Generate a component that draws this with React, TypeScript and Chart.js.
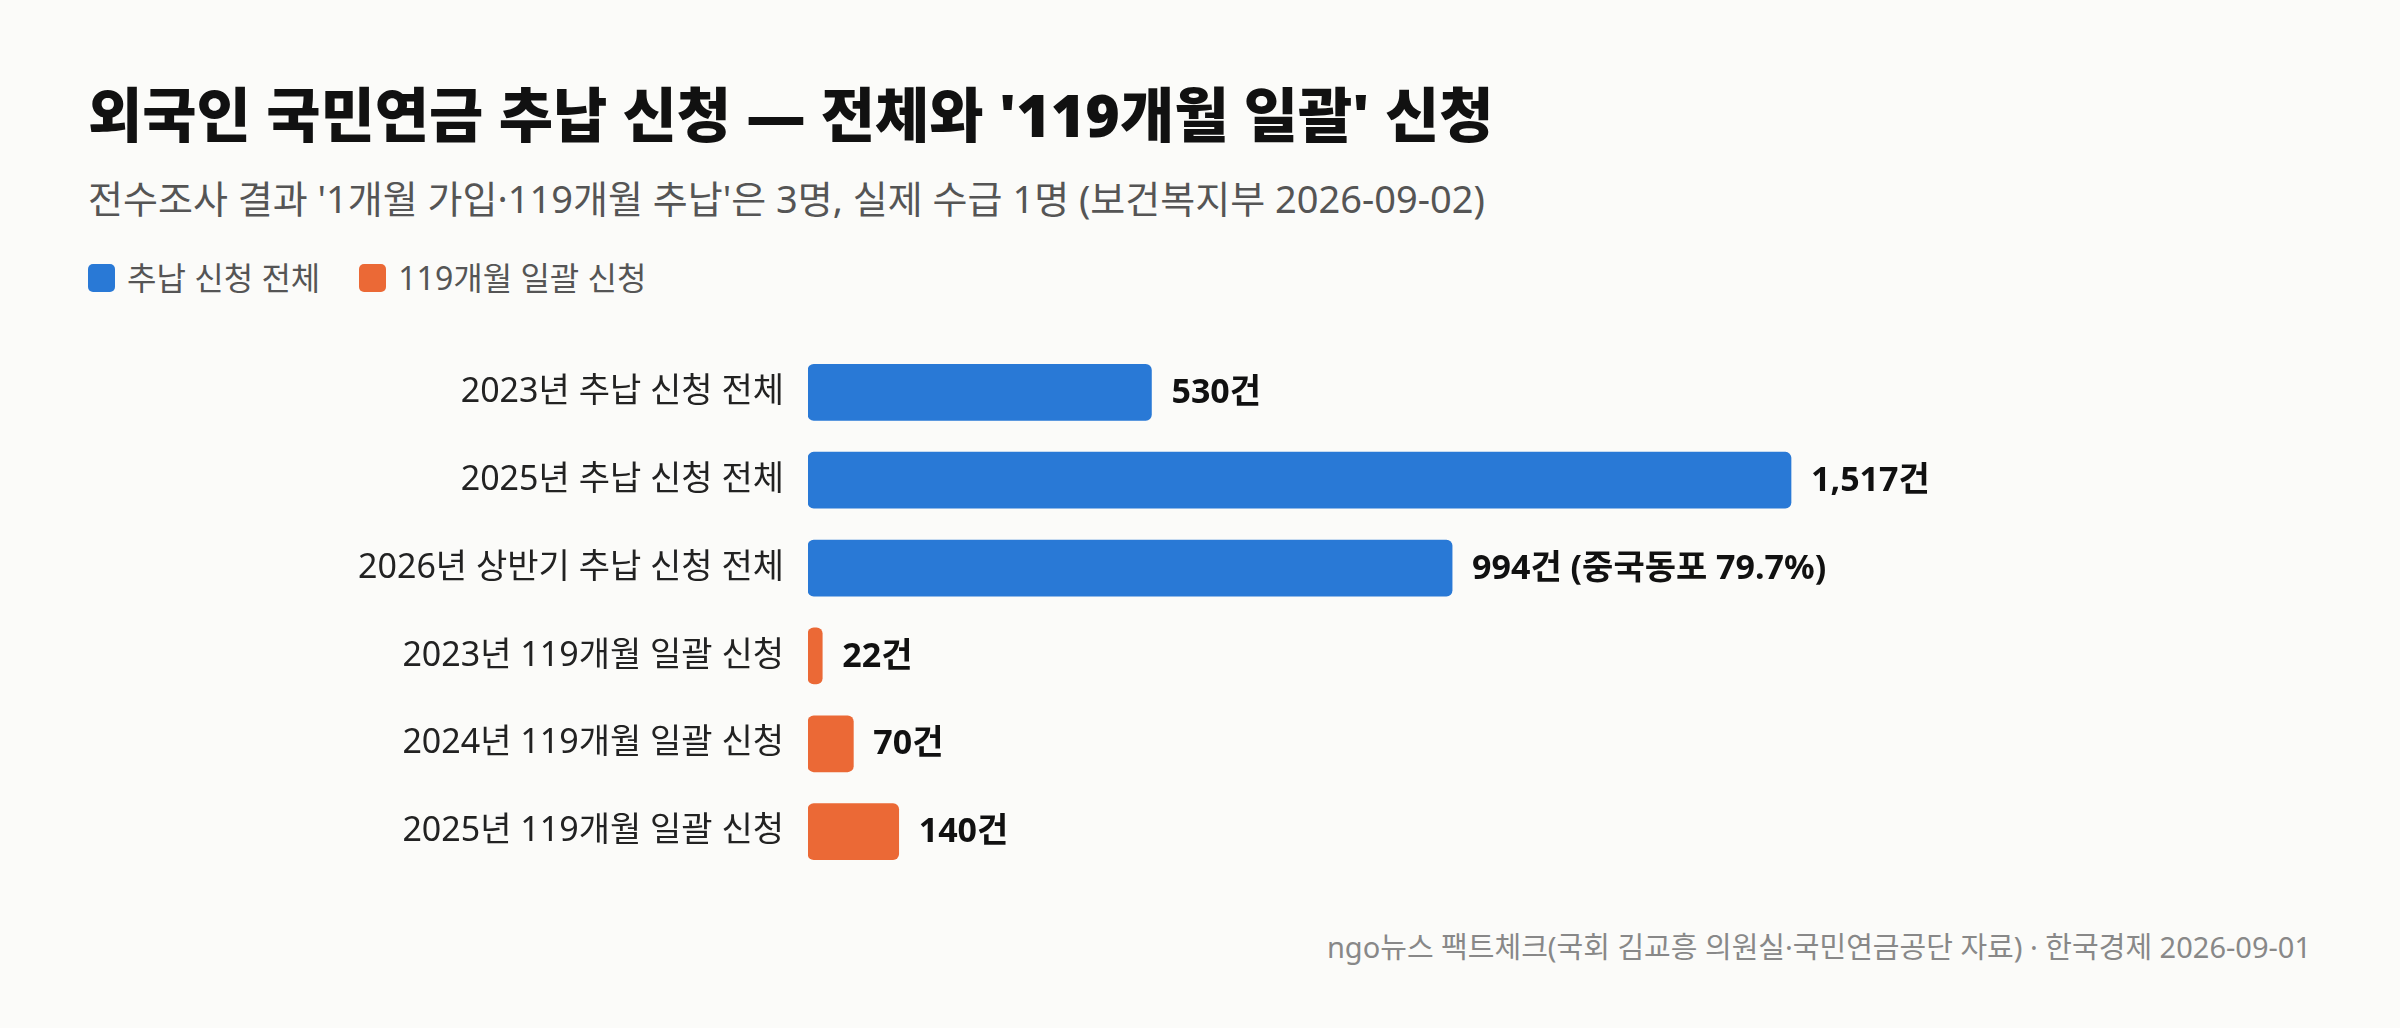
import React, { useEffect, useRef } from "react";
import { Chart, registerables } from "chart.js";

Chart.register(...registerables);

const categories = [
  "2023년 추납 신청 전체",
  "2025년 추납 신청 전체",
  "2026년 상반기 추납 신청 전체",
  "2023년 119개월 일괄 신청",
  "2024년 119개월 일괄 신청",
  "2025년 119개월 일괄 신청",
];
const totalSeries = [530, 1517, 994, null, null, null];
const lumpSeries = [null, null, null, 22, 70, 140];
const valueNotes = ["", "", " (중국동포 79.7%)", "", "", ""];
const seriesNames = ["추납 신청 전체", "119개월 일괄 신청"];
const seriesColors = ["#2979d6", "#eb6936"];

const TITLE = "외국인 국민연금 추납 신청 — 전체와 '119개월 일괄' 신청";
const SUBTITLE =
  "전수조사 결과 '1개월 가입·119개월 추납'은 3명, 실제 수급 1명 (보건복지부 2026-09-02)";
const FOOTER =
  "ngo뉴스 팩트체크(국회 김교흥 의원실·국민연금공단 자료) · 한국경제 2026-09-01";

const FONT = "'Noto Sans', 'Noto Sans CJK KR', sans-serif";
const LABEL_SIZE = 34;
const TICK_PAD = 16;

const valueLabelPlugin = {
  id: "valueLabels",
  afterDatasetsDraw(chart: any) {
    const ctx = chart.ctx;
    ctx.save();
    ctx.font = `700 34px ${FONT}`;
    ctx.fillStyle = "#111111";
    ctx.textBaseline = "middle";
    ctx.textAlign = "left";
    chart.data.datasets.forEach((ds: any, di: number) => {
      const meta = chart.getDatasetMeta(di);
      meta.data.forEach((el: any, i: number) => {
        const v = ds.data[i];
        if (v === null || v === undefined) return;
        const text = v.toLocaleString("en-US") + "건" + valueNotes[i];
        ctx.fillText(text, el.x + 20, el.y + 1);
      });
    });
    ctx.restore();
  },
};

export default function App() {
  const canvasRef = useRef<HTMLCanvasElement | null>(null);
  const vPad = (LABEL_SIZE * 1.2) / 2 + TICK_PAD;
  const canvasTop = 348 - vPad;
  const canvasHeight = 528 + 2 * vPad;

  useEffect(() => {
    document.body.style.margin = "0";
    const chart = new Chart(canvasRef.current as HTMLCanvasElement, {
      type: "bar",
      data: {
        labels: categories,
        datasets: [
          {
            label: seriesNames[0],
            data: totalSeries as any,
            backgroundColor: seriesColors[0],
            borderRadius: 6,
            borderSkipped: false,
            barThickness: 56,
          },
          {
            label: seriesNames[1],
            data: lumpSeries as any,
            backgroundColor: seriesColors[1],
            borderRadius: 6,
            borderSkipped: false,
            barThickness: 56,
          },
        ],
      },
      options: {
        indexAxis: "y",
        animation: false,
        responsive: false,
        maintainAspectRatio: false,
        layout: { padding: { top: 0, bottom: 0, left: 0, right: 296 } },
        plugins: {
          legend: { display: false },
          tooltip: { enabled: false },
          title: { display: false },
        },
        scales: {
          x: {
            stacked: true,
            display: false,
            min: 0,
            max: 2000,
          },
          y: {
            stacked: true,
            grid: { display: false },
            border: { display: false },
            ticks: {
              padding: TICK_PAD,
              color: "#222222",
              font: { family: FONT, size: LABEL_SIZE, weight: 400 },
            },
            afterFit(scale: any) {
              scale.width = 808;
            },
          },
        },
      },
      plugins: [valueLabelPlugin],
    });
    return () => chart.destroy();
  }, []);

  return (
    <div
      style={{
        position: "fixed",
        left: 0,
        top: 0,
        width: 2400,
        height: 1028,
        background: "#fbfbf9",
        fontFamily: FONT,
        overflow: "hidden",
      }}
    >
      <div
        style={{
          position: "absolute",
          left: 88,
          top: 114,
          transform: "translateY(-50%)",
          fontSize: 59,
          fontWeight: 900,
          color: "#111111",
          whiteSpace: "nowrap",
          lineHeight: 1,
        }}
      >
        {TITLE}
      </div>
      <div
        style={{
          position: "absolute",
          left: 88,
          top: 198,
          transform: "translateY(-50%)",
          fontSize: 38,
          fontWeight: 400,
          color: "#555555",
          whiteSpace: "nowrap",
          lineHeight: 1,
        }}
      >
        {SUBTITLE}
      </div>
      <div
        style={{
          position: "absolute",
          left: 88,
          top: 278,
          transform: "translateY(-50%)",
          display: "flex",
          alignItems: "center",
          fontSize: 32,
          color: "#555555",
          whiteSpace: "nowrap",
          lineHeight: 1,
        }}
      >
        {seriesNames.map((name, i) => (
          <div
            key={name}
            style={{ display: "flex", alignItems: "center", marginRight: 39 }}
          >
            <div
              style={{
                width: 27,
                height: 28,
                borderRadius: 5,
                background: seriesColors[i],
                marginRight: 12,
              }}
            />
            <span>{name}</span>
          </div>
        ))}
      </div>
      <canvas
        ref={canvasRef}
        width={2400}
        height={canvasHeight}
        style={{
          position: "absolute",
          left: 0,
          top: canvasTop,
          width: 2400,
          height: canvasHeight,
        }}
      />
      <div
        style={{
          position: "absolute",
          right: 89,
          top: 946,
          transform: "translateY(-50%)",
          fontSize: 29,
          color: "#888888",
          whiteSpace: "nowrap",
          lineHeight: 1,
        }}
      >
        {FOOTER}
      </div>
    </div>
  );
}
